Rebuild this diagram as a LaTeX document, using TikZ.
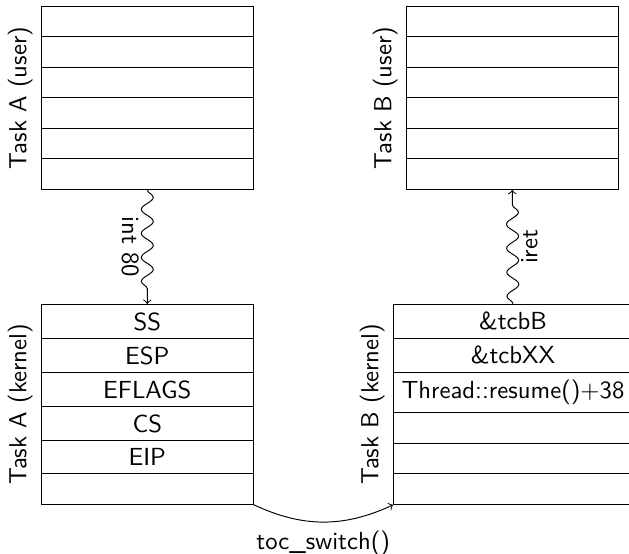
\documentclass[tikz,border=0pt]{standalone}
\usepackage{tikz}
\usetikzlibrary{positioning}
\usetikzlibrary{arrows}
\usetikzlibrary{shapes.multipart}
\usetikzlibrary{decorations.pathmorphing}

\tikzset{
  stack/.style={rectangle split, rectangle split parts=6, draw, minimum width=3.1cm,
    inner ysep=3.1pt, rectangle split empty part height=6.1pt},
  side/.style={rotate=90, anchor=south},
  wave/.style={->, decorate, decoration={snake, post length=2mm}}
}

\begin{document}
\begin{tikzpicture}[font=\sffamily\fontsize{10.3pt}{12pt}\selectfont]
	 \useasboundingbox (-0.60,0.088) rectangle (8.61,-8.01);

	 % the two user stacks
	 \node[stack, anchor=north west] (userA) at (0,0) {};
	 \node[stack, right=2.23cm of userA] (userB) {};

	 % the two kernel stacks
	 \node[stack, below=1.67cm of userA] (kernelA) {SS\nodepart{two}ESP\nodepart{three}EFLAGS\nodepart{four}CS\nodepart{five}EIP\nodepart{six}};
	 \node[stack, minimum width=3.5cm, right=2.04cm of kernelA] (kernelB) {\&tcbB\nodepart{two}\&tcbXX\nodepart{three}Thread::resume()+38\nodepart{four}\nodepart{five}\nodepart{six}};

	 \node[side] (labA) at (userA.west) {Task A (user)};
	 \node[side] (labB) at (userB.west) {Task B (user)};
	 \node[side] (labKA) at (kernelA.west) {Task A (kernel)};
	 \node[side] (labKB) at (kernelB.west) {Task B (kernel)};

	 % switches between the stacks
	 \draw[wave] (userA.south) -- (kernelA.north) node[midway, rotate=-90, anchor=north] {int 80};
	 \draw[wave] (kernelB.north) -- (userB.south) node[midway, rotate=90, anchor=north] {iret};
	 \draw[->] (kernelA.south east) to[bend right=25] node[below] {toc\_switch()} (kernelB.south west);
\end{tikzpicture}
\end{document}
